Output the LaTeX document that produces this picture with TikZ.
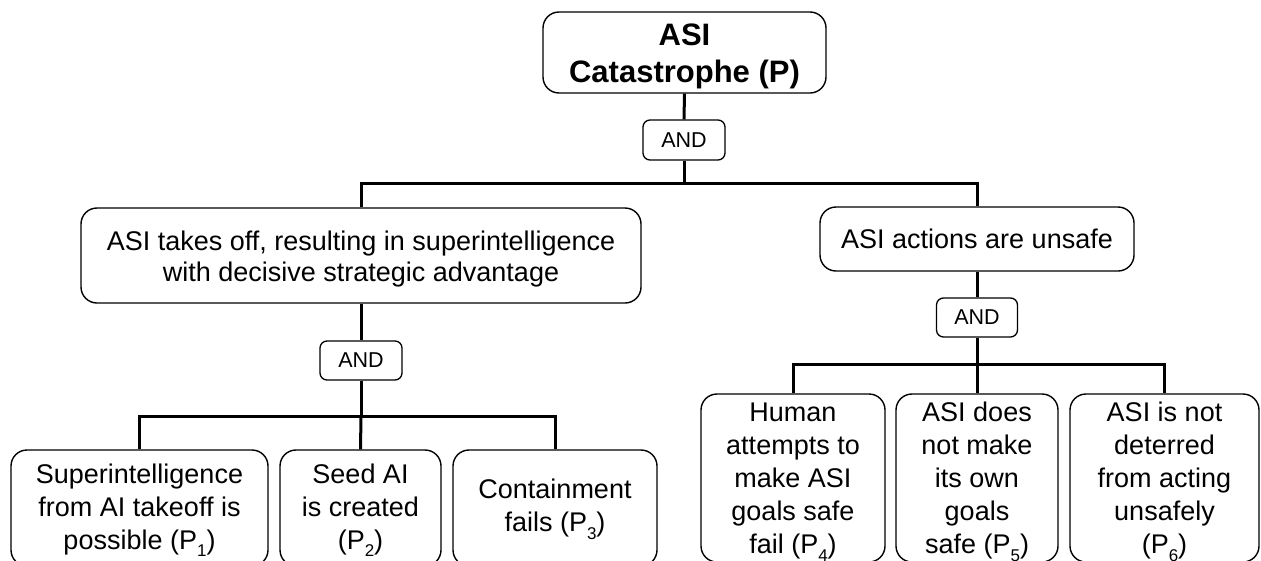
\documentclass[tikz,border=0pt]{standalone}
\usepackage{fontspec}
\setmainfont{Liberation Sans}
\newcommand\mysub[1]{\raisebox{-0.28em}{\fontsize{17}{17}\selectfont #1}}
\begin{document}
\begin{tikzpicture}[x=1pt,y=-1pt,
  box/.style={draw=black,line width=1.4pt,rounded corners=16pt,align=center,inner sep=0pt,fill=white},
  andbox/.style={draw=black,line width=1.3pt,rounded corners=7pt,inner sep=0pt,minimum width=82pt,minimum height=40pt,font={\fontsize{21.5}{25}\selectfont}},
  txt/.style={font={\fontsize{27}{33}\selectfont}},
  conn/.style={line width=3pt}]
\clip (0,0) rectangle (1261,560);
\fill[white] (0,0) rectangle (1261,560);
% nodes
\node[box,minimum width=283pt,minimum height=81pt,font={\fontsize{31}{37}\selectfont\bfseries}] (top) at (684.5,52.5) {\rule{0pt}{29pt}ASI\\Catastrophe (P)};
\node[andbox] (and1) at (684,140) {AND};
\node[box,minimum width=560pt,minimum height=95pt,font={\fontsize{27}{31}\selectfont}] (L) at (361,255.5) {\rule{0pt}{27pt}ASI takes off, resulting in superintelligence\\with decisive strategic advantage};
\node[box,txt,minimum width=314pt,minimum height=64pt] (R) at (977,239) {ASI actions are unsafe};
\node[andbox,minimum height=39pt] (and3) at (361,360.5) {AND};
\node[andbox,minimum width=81pt,minimum height=39pt] (and2) at (977,317.5) {AND};
\node[box,txt,minimum width=257pt,minimum height=116pt] (P1) at (139.5,508) {\rule{0pt}{24pt}Superintelligence\\from AI takeoff is\\possible (P\mysub{1})};
\node[box,txt,minimum width=161pt,minimum height=116pt] (P2) at (360.5,508) {\rule{0pt}{24pt}Seed AI\\is created\\(P\mysub{2})};
\node[box,txt,minimum width=204pt,minimum height=116pt] (P3) at (555,508) {\rule{0pt}{22pt}Containment\\fails (P\mysub{3})};
\node[box,txt,minimum width=184pt,minimum height=168pt] (P4) at (793,478) {\rule{0pt}{27pt}Human\\attempts to\\make ASI\\goals safe\\fail (P\mysub{4})};
\node[box,txt,minimum width=162pt,minimum height=168pt] (P5) at (977,478) {\rule{0pt}{27pt}ASI does\\not make\\its own\\goals\\safe (P\mysub{5})};
\node[box,txt,minimum width=189pt,minimum height=168pt] (P6) at (1164.5,478) {\rule{0pt}{27pt}ASI is not\\deterred\\from acting\\unsafely\\(P\mysub{6})};
% junctions
\coordinate (j1) at (684,183);
\coordinate (j2) at (977,364);
\coordinate (j3) at (361,416);
% connectors
\draw[conn] (top.south) -- (and1.north);
\draw[conn] (and1.south) -- (j1);
\draw[conn] (L.north) |- (j1) -| (R.north);
\draw[conn] (L.south) -- (and3.north);
\draw[conn] (and3.south) -- (j3);
\draw[conn] (P1.north) |- (j3) -| (P3.north);
\draw[conn] (j3) -- (P2.north);
\draw[conn] (R.south) -- (and2.north);
\draw[conn] (and2.south) -- (j2);
\draw[conn] (P4.north) |- (j2) -| (P6.north);
\draw[conn] (j2) -- (P5.north);
\end{tikzpicture}
\end{document}
